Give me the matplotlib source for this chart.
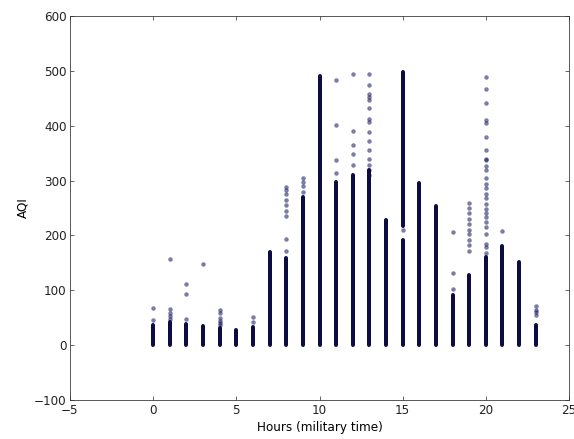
#!/usr/bin/env python3
import matplotlib
matplotlib.use('Agg')
import matplotlib.pyplot as plt

# solid runs of readings (hour, lowest AQI, highest AQI)
seg_hour = [0, 1, 2, 3, 4, 5, 6, 7, 8, 9, 10, 11, 12, 13, 14, 15, 15, 16, 17, 18, 19, 20, 21, 22, 23]
seg_low = [0, 0, 0, 0, 0, 0, 0, 0, 0, 0, 0, 0, 0, 0, 0, 0, 218, 0, 0, 0, 0, 0, 0, 0, 0]
seg_high = [36, 42, 38, 35, 32, 27, 33, 170, 158, 270, 490, 297, 310, 320, 229, 191, 498, 296, 253, 91, 128, 160, 180, 152, 36]

# isolated readings above the solid runs
pt_hour = ([0] * 2 + [1] * 5 + [2] * 3 + [3] + [4] * 6 + [6] * 2
           + [8] * 9 + [9] * 4 + [11] * 4 + [12] * 5 + [13] * 15
           + [15] + [18] * 3 + [19] * 10 + [20] * 26 + [21] + [23] * 4)
pt_aqi = ([45, 67] + [48, 53, 58, 65, 157] + [47, 94, 112] + [148]
          + [36, 40, 44, 50, 59, 64] + [43, 52]
          + [171, 193, 235, 245, 255, 265, 275, 283, 288]
          + [280, 290, 297, 304]
          + [313, 337, 402, 484]
          + [329, 348, 364, 390, 495]
          + [328, 339, 356, 373, 389, 406, 413, 432, 446, 452, 458, 474, 495, 319, 310]
          + [209]
          + [103, 131, 206]
          + [172, 182, 191, 203, 210, 220, 230, 240, 250, 259]
          + [168, 179, 185, 203, 215, 225, 234, 240, 249, 258, 269, 276, 286,
             294, 305, 320, 326, 337, 339, 356, 379, 405, 410, 442, 467, 489]
          + [208]
          + [55, 60, 64, 71])

plt.rcParams['font.family'] = 'DejaVu Sans'
plt.rcParams['font.size'] = 12
plt.rcParams['xtick.direction'] = 'in'
plt.rcParams['ytick.direction'] = 'in'
plt.rcParams['xtick.top'] = True
plt.rcParams['ytick.right'] = True

fig = plt.figure(figsize=(574 / 72, 439 / 72), dpi=72)
ax = fig.add_axes([70 / 574, 39 / 439, 499 / 574, 384 / 439])

ax.vlines(seg_hour, seg_low, seg_high, colors='#0c0c42', linewidth=4.0,
          capstyle='round')
ax.scatter(pt_hour, pt_aqi, s=20, c='#10105a', alpha=0.55, linewidths=0)

ax.set_xlim(-5, 25)
ax.set_ylim(-100, 600)
ax.set_xlabel('Hours (military time)')
ax.set_ylabel('AQI')
ax.tick_params(length=4, width=0.8, color='#444444', labelcolor='#222222')
for s in ax.spines.values():
    s.set_color('#333333')

fig.savefig('out.png', dpi=72)
